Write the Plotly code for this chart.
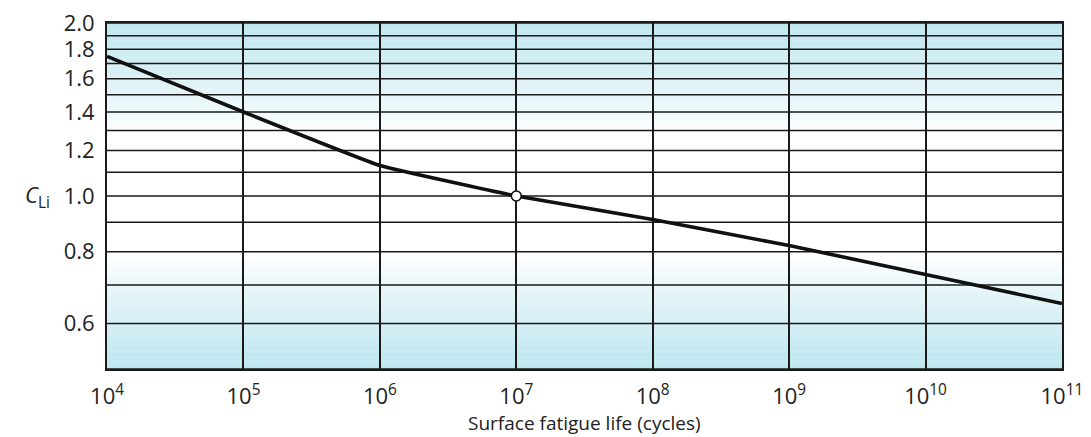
import numpy as np
import plotly.graph_objects as go

# Data
cycles = [1e4, 1e5, 1e6, 1e7, 1e8, 1e9, 1e10, 1e11]
c_li = [1.75, 1.40, 1.13, 1.00, 0.91, 0.82, 0.73, 0.65]
ref_point_x = [1e7]
ref_point_y = [1.0]
y_ticks = [0.6, 0.8, 1.0, 1.2, 1.4, 1.6, 1.8, 2.0]
y_grid = [0.5, 0.6, 0.7, 0.8, 0.9, 1.0, 1.1, 1.2, 1.3, 1.4, 1.5, 1.6, 1.7, 1.8, 1.9, 2.0]
x_exponents = [4, 5, 6, 7, 8, 9, 10, 11]

FONT = "Open Sans"
TXT = "#222222"
fig = go.Figure()

# background tint bands (photo-like cyan at top and bottom)
n = 60
for i in range(n):
    f0 = i / n
    f1 = (i + 1) / n
    fm = (f0 + f1) / 2
    a_bot = max(0.0, 1 - fm / 0.32) ** 0.8
    a_top = max(0.0, (fm - 0.68) / 0.32) ** 0.9
    a = max(a_bot, a_top)
    if a <= 0:
        continue
    fig.add_shape(type="rect", xref="x domain", yref="y domain",
                  x0=0, x1=1, y0=f0, y1=f1, line_width=0,
                  fillcolor=f"rgba(178,226,236,{0.85*a:.3f})", layer="below")

# horizontal grid lines every 0.1
for g in y_grid:
    fig.add_shape(type="line", xref="x domain", yref="y", x0=0, x1=1, y0=g, y1=g,
                  line=dict(color="#1a1a1a", width=1.6), layer="below")

fig.add_trace(go.Scatter(x=cycles, y=c_li, mode="lines",
                         line=dict(color="#111111", width=3.6, shape="spline", smoothing=0.3),
                         hoverinfo="skip", showlegend=False))
fig.add_trace(go.Scatter(x=ref_point_x, y=ref_point_y, mode="markers",
                         marker=dict(size=10, color="white", line=dict(color="#111111", width=1.6)),
                         showlegend=False))

x_tickvals = [10.0 ** e for e in x_exponents]
x_ticktext = [f"10<sup>{e}</sup>" for e in x_exponents]

fig.update_xaxes(type="log", range=[3.9995, 11.0005], tickvals=x_tickvals, ticktext=x_ticktext,
                 showgrid=True, gridcolor="#1a1a1a", gridwidth=1.5, automargin=False,
                 showline=True, linecolor="#1a1a1a", linewidth=2, mirror=True,
                 ticks="", ticklabelstandoff=7, zeroline=False,
                 tickfont=dict(family=FONT, size=22, color=TXT))
fig.update_yaxes(type="log", range=[np.log10(0.5), np.log10(2.0)], tickvals=y_ticks,
                 ticktext=[f"{v:.1f}" for v in y_ticks], automargin=False,
                 showgrid=False, showline=True, linecolor="#1a1a1a", linewidth=2, mirror=True,
                 ticks="", ticklabelstandoff=6, zeroline=False,
                 tickfont=dict(family=FONT, size=22, color=TXT))

fig.add_annotation(text="<i>C</i><sub>Li</sub>", xref="paper", yref="y",
                   x=-0.073, y=0, showarrow=False, xanchor="center", yanchor="middle",
                   font=dict(family=FONT, size=22, color=TXT))
fig.add_annotation(text="Surface fatigue life (cycles)", xref="paper", yref="paper",
                   x=0.5, y=-0.156, showarrow=False, xanchor="center", yanchor="middle",
                   font=dict(family=FONT, size=19, color=TXT))

fig.update_layout(width=1091, height=437,
                  margin=dict(l=107, r=29, t=23, b=68, autoexpand=False),
                  paper_bgcolor="white", plot_bgcolor="white",
                  font=dict(family=FONT))

fig.write_html("out.html", config={"displayModeBar": False},
               post_script="document.body.style.margin='0';document.body.style.overflow='hidden';")
